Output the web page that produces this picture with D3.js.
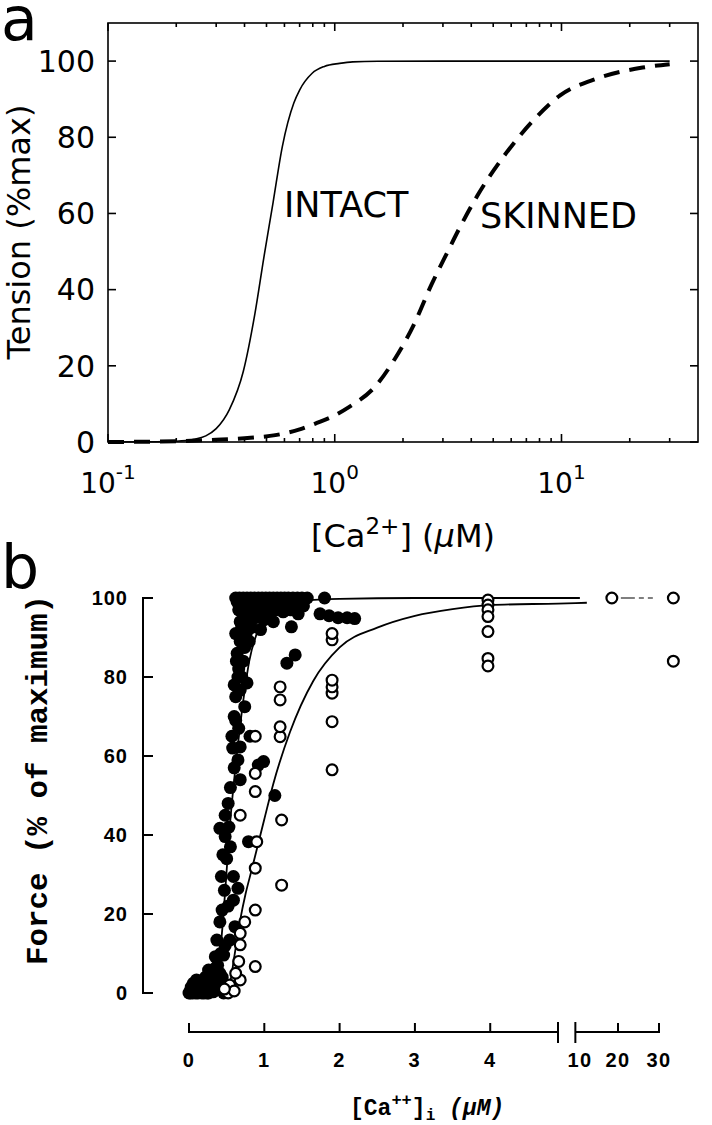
<!DOCTYPE html>
<html><head><meta charset="utf-8">
<script src="https://cdn.jsdelivr.net/npm/d3@7"></script>
<style>html,body{margin:0;padding:0;background:#fff;} svg{display:block;}</style>
</head><body>
<script>
// ---------- Panel a data ----------
const intactX = [0.1, 0.15, 0.2, 0.24, 0.27, 0.3, 0.343, 0.395, 0.444, 0.487, 0.535, 0.587, 0.66, 0.7, 0.795, 0.9, 1.05, 1.2, 1.55, 3, 10, 30];
const intactY = [0, 0.05, 0.2, 0.7, 1.6, 3.5, 8.5, 18.5, 33.5, 48.5, 63, 77.5, 89, 92.4, 96.8, 98.6, 99.4, 99.8, 99.95, 100, 100, 100];
const skinnedX = [0.1, 0.2, 0.3, 0.4, 0.547, 0.7, 0.834, 1.0, 1.15, 1.53, 1.84, 2.22, 2.67, 3.15, 3.54, 4.26, 5.63, 7.45, 9.86, 14.3, 22.8, 30];
const skinnedY = [0, 0.2, 0.6, 1.0, 1.8, 3.3, 5.0, 7, 9.1, 15, 21.8, 30.5, 41.3, 50, 56, 64.7, 75.4, 84.2, 91, 95.4, 98.3, 99.2];
const aYTicks = [0, 20, 40, 60, 80, 100];
const aXMajor = [0.1, 1, 10];
const aXExp = ["-1", "0", "1"];
const aLabels = ["INTACT", "SKINNED"];

// ---------- Panel b data ----------
const filledX = [0.62,0.67,0.72,0.77,0.82,0.87,0.92,0.97,1.02,1.07,1.12,1.17,1.22,1.27,1.32,1.38,1.44,1.5,1.57,1.8,
  0.66,0.72,0.78,0.84,0.9,0.96,1.02,1.08,1.15,1.25,1.35,1.45,0.7,0.76,0.83,0.95,0.68,0.74,0.64,1.36,1.41,1.3,1.74,1.86,1.98,2.1,2.2,
  0.64,0.74,0.86,0.98,1.1,1.2,1.3,1.42,1.52,0.68,0.8,0.88,1.0,1.12,0.62,0.72,0.8,
  0.63,0.65,0.68,0.77,0.62,0.74,0.6,0.57,0.81,0.68,0.99,0.92,0.65,0.68,1.14,0.48,0.41,0.48,0.79,0.5,0.43,0.59,0.65,0.59,0.41,0.61,0.37,0.54,0.35,0.46,0.26,0.41,
  0.66,0.7,0.6,0.72,0.62,0.66,0.58,0.6,0.55,0.52,0.53,0.45,0.55,0.47,0.52,0.44,0.48,0.42,0.38,0.33,0.3,0.22,0.16,0.06,
  0.1,0.21,0.01,0.15,0.32,0.46,0.05,0.08,0.12,0.18,0.24,0.28,0.3,0.36,0.4,0.5,0.2,0.03,0.14,0.26,0.34,0.44,
  0.0,0.02,0.09,0.11,0.17,0.22,0.27,0.33,0.38,0.42,0.48];
const filledY = [100,100,100,100,100,100,100,100,100,100,100,100,100,100,100,100,100,100,100,100,
  97,96,97.5,95.5,97,95,97.5,96,97,96.5,97,96,93,91,92.5,92,89,87.5,86,92.7,85.6,83.5,96,95.5,95,95,94.8,
  99,98.5,99,98.8,98.5,99,98.5,98.8,98,94,94,95,94.5,94,91,89,89,
  84,80,76.7,78.5,75,72.5,70,65,65,62.3,58.6,57.7,59,54,50,45,41.7,39.6,38.3,34,29.5,29.5,26.5,23.5,18,16.8,13.4,13.4,9.2,9.6,5.8,5,
  82,80,78,84,69,67,62,57,52,48,42,35,37,26,22,21,12,10,7,6,4.5,4,3,2.5,
  3.3,2.5,0.3,0.3,0.3,0,0,1,0,1,0,1.5,3,2,1,2,0,1.5,2,0,5,4,
  0,0,0,1.5,0,1,2.5,0.5,3,2.5,0.5];
const openX = [0.52,0.54,0.6,0.47,0.68,0.88,0.68,0.68,0.74,0.88,1.23,0.88,0.9,1.23,0.68,0.88,0.88,0.88,1.21,1.21,1.21,1.21,
  1.9,1.9,1.9,1.9,1.9,1.9,1.9,3.97,3.97,3.97,3.97,3.97,3.97,3.97,18.5,33.5,33.5,0.66,0.62];
const openY = [0,2,0.5,1,3.3,6.7,12.2,15.1,18,21,27.3,31.6,38.3,43.8,45,51,55.6,65,64.9,67.4,74.2,77.5,
  56.5,68.7,75.9,77.5,79.2,89.4,91,99.5,98.2,97,95.3,91.5,84.7,82.8,100,100,84,8,5];
const fitIntactX = [0.3,0.35,0.4,0.45,0.5,0.55,0.6,0.65,0.7,0.75,0.8,0.9,1.0,1.2,1.5,2,3,4,4.9,10.7];
const fitIntactY = [0,2,8,18,31,44,54,63,71,78,84,91,95,98,99.3,99.8,100,100,100,100];
const fitOpenX = [0.5,0.55,0.6,0.68,0.75,0.83,1.0,1.12,1.34,1.65,2.0,2.5,3.0,3.5,4.0,4.9,12.4];
const fitOpenY = [0,3,9,18.5,25,31,44,53,66,79,87.5,92.5,95.5,97.2,98.2,98.6,98.8];
const dashX = [18.5, 28.5];
const dashY = [100, 100];
const bYTicks = [0, 20, 40, 60, 80, 100];
const bXTicksLeft = [0, 1, 2, 3, 4];
const bXTicksRight = [10, 20, 30];

const W = 712, H = 1125;
const svg = d3.select("body").append("svg").attr("width", W).attr("height", H);

// ================= Panel a =================
const ax = d3.scaleLog().domain([0.1, 40]).range([108, 698]);
const ay = d3.scaleLinear().domain([0, 110]).range([442, 23]);
const ga = svg.append("g").attr("font-family", "DejaVu Sans");

const line = d3.line().x(d => ax(d[0])).y(d => ay(d[1])).curve(d3.curveMonotoneX);
ga.append("path").datum(intactX.map((x, i) => [x, intactY[i]]))
  .attr("d", line).attr("fill", "none").attr("stroke", "#000").attr("stroke-width", 1.6);
ga.append("path").datum(skinnedX.map((x, i) => [x, skinnedY[i]]))
  .attr("d", line).attr("fill", "none").attr("stroke", "#000").attr("stroke-width", 4)
  .attr("stroke-dasharray", "16,10");

ga.append("rect").attr("x", 108).attr("y", 23).attr("width", 590).attr("height", 419)
  .attr("fill", "none").attr("stroke", "#000").attr("stroke-width", 1.6);
const xt = ax.ticks();
xt.forEach(t => {
  const isMajor = aXMajor.some(m => Math.abs(m - t) < 1e-9);
  const len = isMajor ? 8 : 4;
  const x = ax(t);
  if (x >= 697) return;
  ga.append("line").attr("x1", x).attr("x2", x).attr("y1", 442).attr("y2", 442 - len).attr("stroke", "#000").attr("stroke-width", 1.6);
  ga.append("line").attr("x1", x).attr("x2", x).attr("y1", 23).attr("y2", 23 + len).attr("stroke", "#000").attr("stroke-width", 1.6);
});
aYTicks.forEach(t => {
  const y = ay(t);
  ga.append("line").attr("x1", 108).attr("x2", 116).attr("y1", y).attr("y2", y).attr("stroke", "#000").attr("stroke-width", 1.6);
  ga.append("line").attr("x1", 698).attr("x2", 690).attr("y1", y).attr("y2", y).attr("stroke", "#000").attr("stroke-width", 1.6);
  ga.append("text").attr("x", 95).attr("y", y).attr("dy", "0.36em").attr("text-anchor", "end")
    .attr("font-size", 30).text(t);
});
aXMajor.forEach((t, i) => {
  const tx = ga.append("text").attr("x", ax(t)).attr("y", 493).attr("text-anchor", "middle").attr("font-size", 28);
  tx.append("tspan").text("10");
  tx.append("tspan").attr("dy", -14).attr("font-size", 20).text(aXExp[i]);
});
const xl = ga.append("text").attr("x", 403).attr("y", 547).attr("text-anchor", "middle").attr("font-size", 32);
xl.append("tspan").text("[Ca");
xl.append("tspan").attr("dy", -13).attr("font-size", 23).text("2+");
xl.append("tspan").attr("dy", 13).text("] (");
xl.append("tspan").attr("font-style", "italic").text("μ");
xl.append("tspan").text("M)");
ga.append("text").attr("transform", "translate(30,232) rotate(-90)").attr("text-anchor", "middle")
  .attr("font-size", 32).text("Tension (%max)");
ga.append("text").attr("x", 284).attr("y", 217).attr("font-size", 35).text(aLabels[0]);
ga.append("text").attr("x", 480).attr("y", 228).attr("font-size", 35).text(aLabels[1]);
ga.append("text").attr("x", 1).attr("y", 40).attr("font-size", 60).text("a");
ga.append("text").attr("x", 1).attr("y", 588).attr("font-size", 60).text("b");

// ================= Panel b =================
const xL = d3.scaleLinear().domain([0, 4.9]).range([189, 558]);
const xR = d3.scaleLinear().domain([10, 30]).range([577, 659]);
const bx = v => v <= 4.9 ? xL(v) : xR(v);
const by = d3.scaleLinear().domain([0, 100]).range([993, 598]);
const gb = svg.append("g");

const lineB = d3.line().x(d => bx(d[0])).y(d => by(d[1])).curve(d3.curveMonotoneX);
gb.append("path").datum(fitIntactX.map((x, i) => [x, fitIntactY[i]])).attr("d", lineB)
  .attr("fill", "none").attr("stroke", "#000").attr("stroke-width", 1.8);
gb.append("path").datum(fitOpenX.map((x, i) => [x, fitOpenY[i]])).attr("d", lineB)
  .attr("fill", "none").attr("stroke", "#000").attr("stroke-width", 1.8);
gb.append("path").datum(dashX.map((x, i) => [x, dashY[i]])).attr("d", d3.line().x(d => bx(d[0])).y(d => by(d[1])))
  .attr("fill", "none").attr("stroke", "#000").attr("stroke-width", 1.2).attr("stroke-dasharray", "5,4,14,4");

gb.selectAll("circle.f").data(filledX.map((x, i) => [x, filledY[i]])).enter().append("circle")
  .attr("cx", d => bx(d[0])).attr("cy", d => by(d[1])).attr("r", 6.5).attr("fill", "#000");
gb.selectAll("circle.o").data(openX.map((x, i) => [x, openY[i]])).enter().append("circle")
  .attr("cx", d => bx(d[0])).attr("cy", d => by(d[1])).attr("r", 5.4).attr("fill", "#fff")
  .attr("stroke", "#000").attr("stroke-width", 2.2);

gb.append("line").attr("x1", 143).attr("x2", 143).attr("y1", by(100)).attr("y2", by(0)).attr("stroke", "#000").attr("stroke-width", 2);
bYTicks.forEach(t => {
  gb.append("line").attr("x1", 142).attr("x2", 153).attr("y1", by(t)).attr("y2", by(t)).attr("stroke", "#000").attr("stroke-width", 2);
  gb.append("text").attr("x", 128).attr("y", by(t) + 7).attr("text-anchor", "end")
    .attr("font-family", "Liberation Sans").attr("font-weight", "bold").attr("font-size", 20)
    .attr("letter-spacing", 1).text(t);
});
const yAx = 1032;
gb.append("line").attr("x1", xL(0)).attr("x2", xL(4.9)).attr("y1", yAx).attr("y2", yAx).attr("stroke", "#000").attr("stroke-width", 2);
gb.append("line").attr("x1", xR(9.6)).attr("x2", xR(30)).attr("y1", yAx).attr("y2", yAx).attr("stroke", "#000").attr("stroke-width", 2);
gb.append("line").attr("x1", xL(4.9)).attr("x2", xL(4.9)).attr("y1", 1022).attr("y2", 1043).attr("stroke", "#000").attr("stroke-width", 2);
gb.append("line").attr("x1", xR(9.6)).attr("x2", xR(9.6)).attr("y1", 1022).attr("y2", 1043).attr("stroke", "#000").attr("stroke-width", 2);
bXTicksLeft.forEach(t => {
  gb.append("line").attr("x1", xL(t)).attr("x2", xL(t)).attr("y1", yAx + 1).attr("y2", 1023).attr("stroke", "#000").attr("stroke-width", 2);
  gb.append("text").attr("x", xL(t)).attr("y", 1067).attr("text-anchor", "middle")
    .attr("font-family", "Liberation Sans").attr("font-weight", "bold").attr("font-size", 20)
    .attr("letter-spacing", 1.5).text(t);
});
bXTicksRight.forEach(t => {
  if (t > 10) gb.append("line").attr("x1", xR(t)).attr("x2", xR(t)).attr("y1", yAx + 1).attr("y2", 1023).attr("stroke", "#000").attr("stroke-width", 2);
  gb.append("text").attr("x", xR(t) + (t === 10 ? 3 : 0)).attr("y", 1067).attr("text-anchor", "middle")
    .attr("font-family", "Liberation Sans").attr("font-weight", "bold").attr("font-size", 20)
    .attr("letter-spacing", 1.5).text(t);
});
const bxl = gb.append("text").attr("x", 350).attr("y", 1115)
  .attr("font-family", "Liberation Mono").attr("font-weight", "bold").attr("font-size", 23);
bxl.append("tspan").text("[Ca");
bxl.append("tspan").attr("dy", -10).attr("font-size", 17).text("++");
bxl.append("tspan").attr("dy", 10).text("]");
bxl.append("tspan").attr("dy", 5).attr("font-size", 16).text("i");
bxl.append("tspan").attr("dy", -5).attr("font-style", "italic").text(" (μM)");
gb.append("text").attr("transform", "translate(47,780) rotate(-90)").attr("text-anchor", "middle")
  .attr("font-family", "Liberation Mono").attr("font-weight", "bold").attr("font-size", 29)
  .attr("textLength", 370).attr("lengthAdjust", "spacingAndGlyphs").text("Force (% of maximum)");
</script>
</body></html>
